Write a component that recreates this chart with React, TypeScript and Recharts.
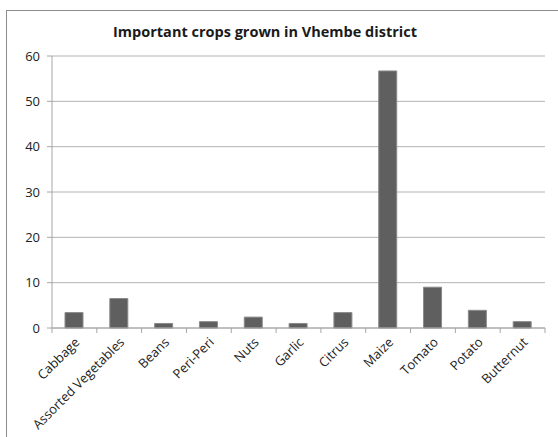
import React from 'react'
import { BarChart, Bar, XAxis, YAxis, CartesianGrid } from 'recharts'

// ── Data ──────────────────────────────────────────────────────────────────────

const crops = [
  'Cabbage', 'Assorted Vegetables', 'Beans', 'Peri-Peri', 'Nuts', 'Garlic',
  'Citrus', 'Maize', 'Tomato', 'Potato', 'Butternut',
]
const shares = [3.4, 6.5, 1.0, 1.4, 2.4, 1.0, 3.4, 56.7, 9.0, 3.9, 1.4]
const yTicks = [0, 10, 20, 30, 40, 50, 60]

const chartData = crops.map((name, i) => ({ name, value: shares[i] }))

// ── Layout ────────────────────────────────────────────────────────────────────

const W = 558
const H = 437
const Y_AXIS_W = 52
const X_AXIS_H = 109
const RIGHT = 13
const TOP = 56
const AXIS_Y = H - X_AXIS_H
const BAND = (W - Y_AXIS_W - RIGHT) / crops.length
const FONT = '"Open Sans", "Liberation Sans", sans-serif'

// category labels rotated -45°, tick marks between categories (Excel style)
const XTick = (props: any) => {
  const { x, payload, index } = props
  const left = x - BAND / 2
  const tx = x + 6
  const ty = AXIS_Y + 15
  return (
    <g>
      <line x1={left} y1={AXIS_Y} x2={left} y2={AXIS_Y + 5} stroke="#a6a6a6" />
      {index === crops.length - 1 && (
        <line x1={left + BAND} y1={AXIS_Y} x2={left + BAND} y2={AXIS_Y + 5} stroke="#a6a6a6" />
      )}
      <text
        x={tx}
        y={ty}
        textAnchor="end"
        fontSize={13}
        fontFamily={FONT}
        fill="#222"
        transform={`rotate(-45 ${tx} ${ty})`}
      >
        {payload.value}
      </text>
    </g>
  )
}

export default function App() {
  return (
    <div style={{ position: 'absolute', left: 0, top: 0, width: W, height: H, overflow: 'hidden', background: '#fff' }}>
      <div
        style={{
          position: 'absolute', left: 6, top: 10, width: W, height: H,
          border: '1.5px solid #8c8c8c', boxSizing: 'border-box',
        }}
      />
      <div
        style={{
          position: 'absolute', left: 0, top: 22, width: 530, textAlign: 'center',
          fontFamily: FONT, fontWeight: 700, fontSize: 14.5, color: '#1a1a1a',
        }}
      >
        Important crops grown in Vhembe district
      </div>
      <BarChart
        width={W}
        height={H}
        data={chartData}
        margin={{ top: TOP, right: RIGHT, left: 0, bottom: 0 }}
        barSize={18}
        style={{ position: 'absolute', left: 0, top: 0 }}
      >
        <CartesianGrid vertical={false} stroke="#b3b3b3" />
        <XAxis
          dataKey="name"
          interval={0}
          height={X_AXIS_H}
          tickLine={false}
          axisLine={{ stroke: '#a6a6a6' }}
          tick={<XTick />}
        />
        <YAxis
          width={Y_AXIS_W}
          domain={[0, 60]}
          ticks={yTicks}
          tickSize={5}
          tickMargin={7}
          tickLine={{ stroke: '#a6a6a6' }}
          axisLine={{ stroke: '#a6a6a6' }}
          tick={{ fontSize: 13, fill: '#222', fontFamily: FONT }}
        />
        <Bar dataKey="value" fill="#5f5f5f" stroke="#8a8a8a" strokeWidth={1} isAnimationActive={false} />
      </BarChart>
    </div>
  )
}
